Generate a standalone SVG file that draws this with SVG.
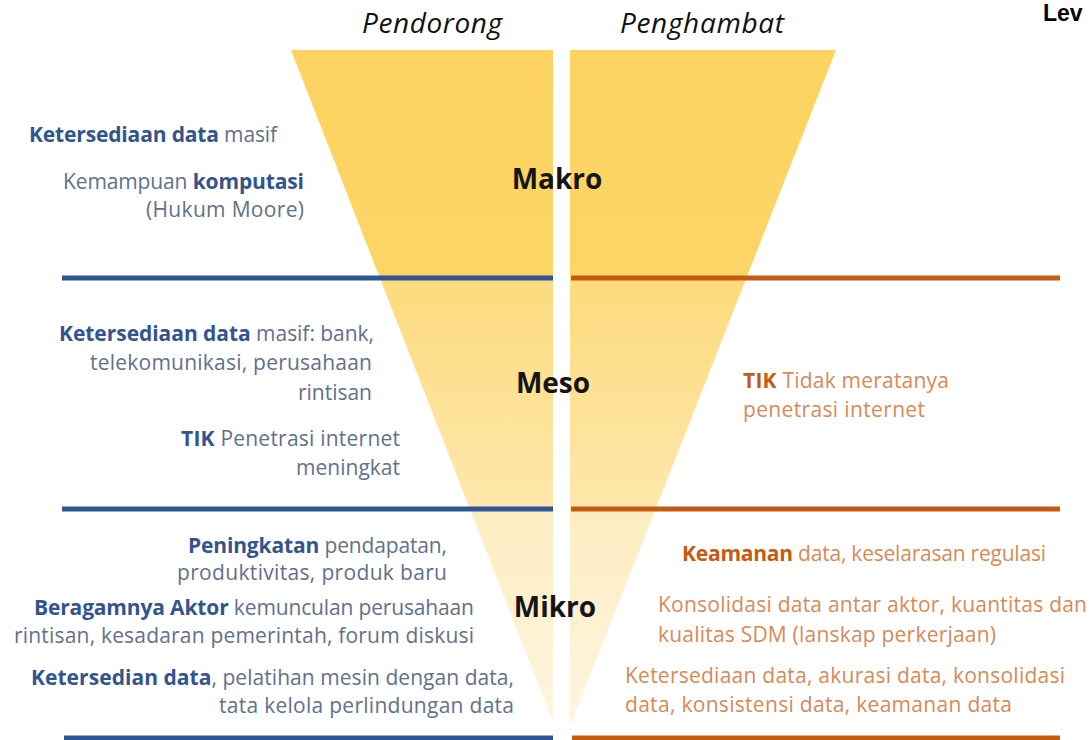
<svg xmlns="http://www.w3.org/2000/svg" width="1089" height="740" viewBox="0 0 1089 740">
<defs>
<linearGradient id="funnelFill" gradientUnits="userSpaceOnUse" x1="0" y1="50" x2="0" y2="740">
<stop offset="0" stop-color="#FCD35F"/>
<stop offset="0.33" stop-color="#FCD566"/>
<stop offset="0.335" stop-color="#FDDB7D"/>
<stop offset="0.66" stop-color="#FEE7AB"/>
<stop offset="0.67" stop-color="#FEEDC2"/>
<stop offset="1" stop-color="#FFF6E2"/>
</linearGradient>
<style>
.t { font-family: "Open Sans", "Liberation Sans", sans-serif; font-size: 21px; }
.lt { fill: #62708B; }
.lb { font-weight: bold; fill: #33548C; }
.rt { fill: #D68A58; }
.rb { font-weight: bold; fill: #C55A11; }
.end { text-anchor: end; }
.lvl { font-family: "Open Sans", "Liberation Sans", sans-serif; font-size: 28px; font-weight: bold; fill: #151515; text-anchor: middle; }
.hd { font-family: "Open Sans", "Liberation Sans", sans-serif; font-size: 28px; font-style: italic; fill: #111; }
.bl { stroke: #2F5597; stroke-width: 5; }
.or { stroke: #C55A11; stroke-width: 5; }
</style>
</defs>
<rect width="1089" height="740" fill="#FFFFFF"/>

<g id="funnel">
<polygon points="291,50 553,50 553,722" fill="url(#funnelFill)"/>
<polygon points="570,50 836,50 570,727" fill="url(#funnelFill)"/>
</g>

<g id="connectors">
<line class="bl" x1="62" y1="278" x2="553" y2="278"/>
<line class="or" x1="571" y1="278" x2="1060" y2="278"/>
<line class="bl" x1="62" y1="509" x2="553" y2="509"/>
<line class="or" x1="571" y1="509" x2="1060" y2="509"/>
<line class="bl" x1="64" y1="738" x2="553" y2="738"/>
<line class="or" x1="572" y1="738" x2="1060" y2="738"/>
</g>

<g id="headers">
<text class="hd" x="362" y="33" textLength="140">Pendorong</text>
<text class="hd" x="620" y="33" textLength="164">Penghambat</text>
<text x="1043" y="21" font-family="Liberation Sans, Arial, sans-serif" font-size="23" font-weight="bold" fill="#000">Lev</text>
</g>

<g id="levels">
<text class="lvl" x="557" y="189">Makro</text>
<text class="lvl" x="553" y="393">Meso</text>
<text class="lvl" x="555" y="617">Mikro</text>
</g>

<g id="makro-pendorong" class="t lt">
<text x="29" y="142" textLength="248"><tspan class="lb">Ketersediaan data</tspan> masif</text>
<text class="end" x="304" y="189" textLength="241">Kemampuan <tspan class="lb">komputasi</tspan></text>
<text class="end" x="304" y="217" textLength="158">(Hukum Moore)</text>
</g>

<g id="meso-pendorong" class="t lt">
<text class="end" x="374" y="341" textLength="315"><tspan class="lb">Ketersediaan data</tspan> masif: bank,</text>
<text class="end" x="372" y="370" textLength="282">telekomunikasi, perusahaan</text>
<text class="end" x="372" y="400">rintisan</text>
<text class="end" x="400" y="446" textLength="219"><tspan class="lb">TIK</tspan> Penetrasi internet</text>
<text class="end" x="400" y="475">meningkat</text>
</g>

<g id="mikro-pendorong" class="t lt">
<text class="end" x="447" y="553" textLength="259"><tspan class="lb">Peningkatan</tspan> pendapatan,</text>
<text class="end" x="447" y="580" textLength="270">produktivitas, produk baru</text>
<text class="end" x="474" y="615" textLength="440"><tspan class="lb">Beragamnya Aktor</tspan> kemunculan perusahaan</text>
<text class="end" x="474" y="643" textLength="460">rintisan, kesadaran pemerintah, forum diskusi</text>
<text class="end" x="514" y="685" textLength="483"><tspan class="lb">Ketersedian data</tspan>, pelatihan mesin dengan data,</text>
<text class="end" x="514" y="713" textLength="295">tata kelola perlindungan data</text>
</g>

<g id="meso-penghambat" class="t rt">
<text x="743" y="388" textLength="206"><tspan class="rb">TIK</tspan> Tidak meratanya</text>
<text x="743" y="417" textLength="182">penetrasi internet</text>
</g>

<g id="mikro-penghambat" class="t rt">
<text x="682" y="561" textLength="364"><tspan class="rb">Keamanan</tspan> data, keselarasan regulasi</text>
<text x="658" y="612" textLength="429">Konsolidasi data antar aktor, kuantitas dan</text>
<text x="658" y="642" textLength="338">kualitas SDM (lanskap perkerjaan)</text>
<text x="625" y="683" textLength="440">Ketersediaan data, akurasi data, konsolidasi</text>
<text x="625" y="712" textLength="387">data, konsistensi data, keamanan data</text>
</g>
</svg>
